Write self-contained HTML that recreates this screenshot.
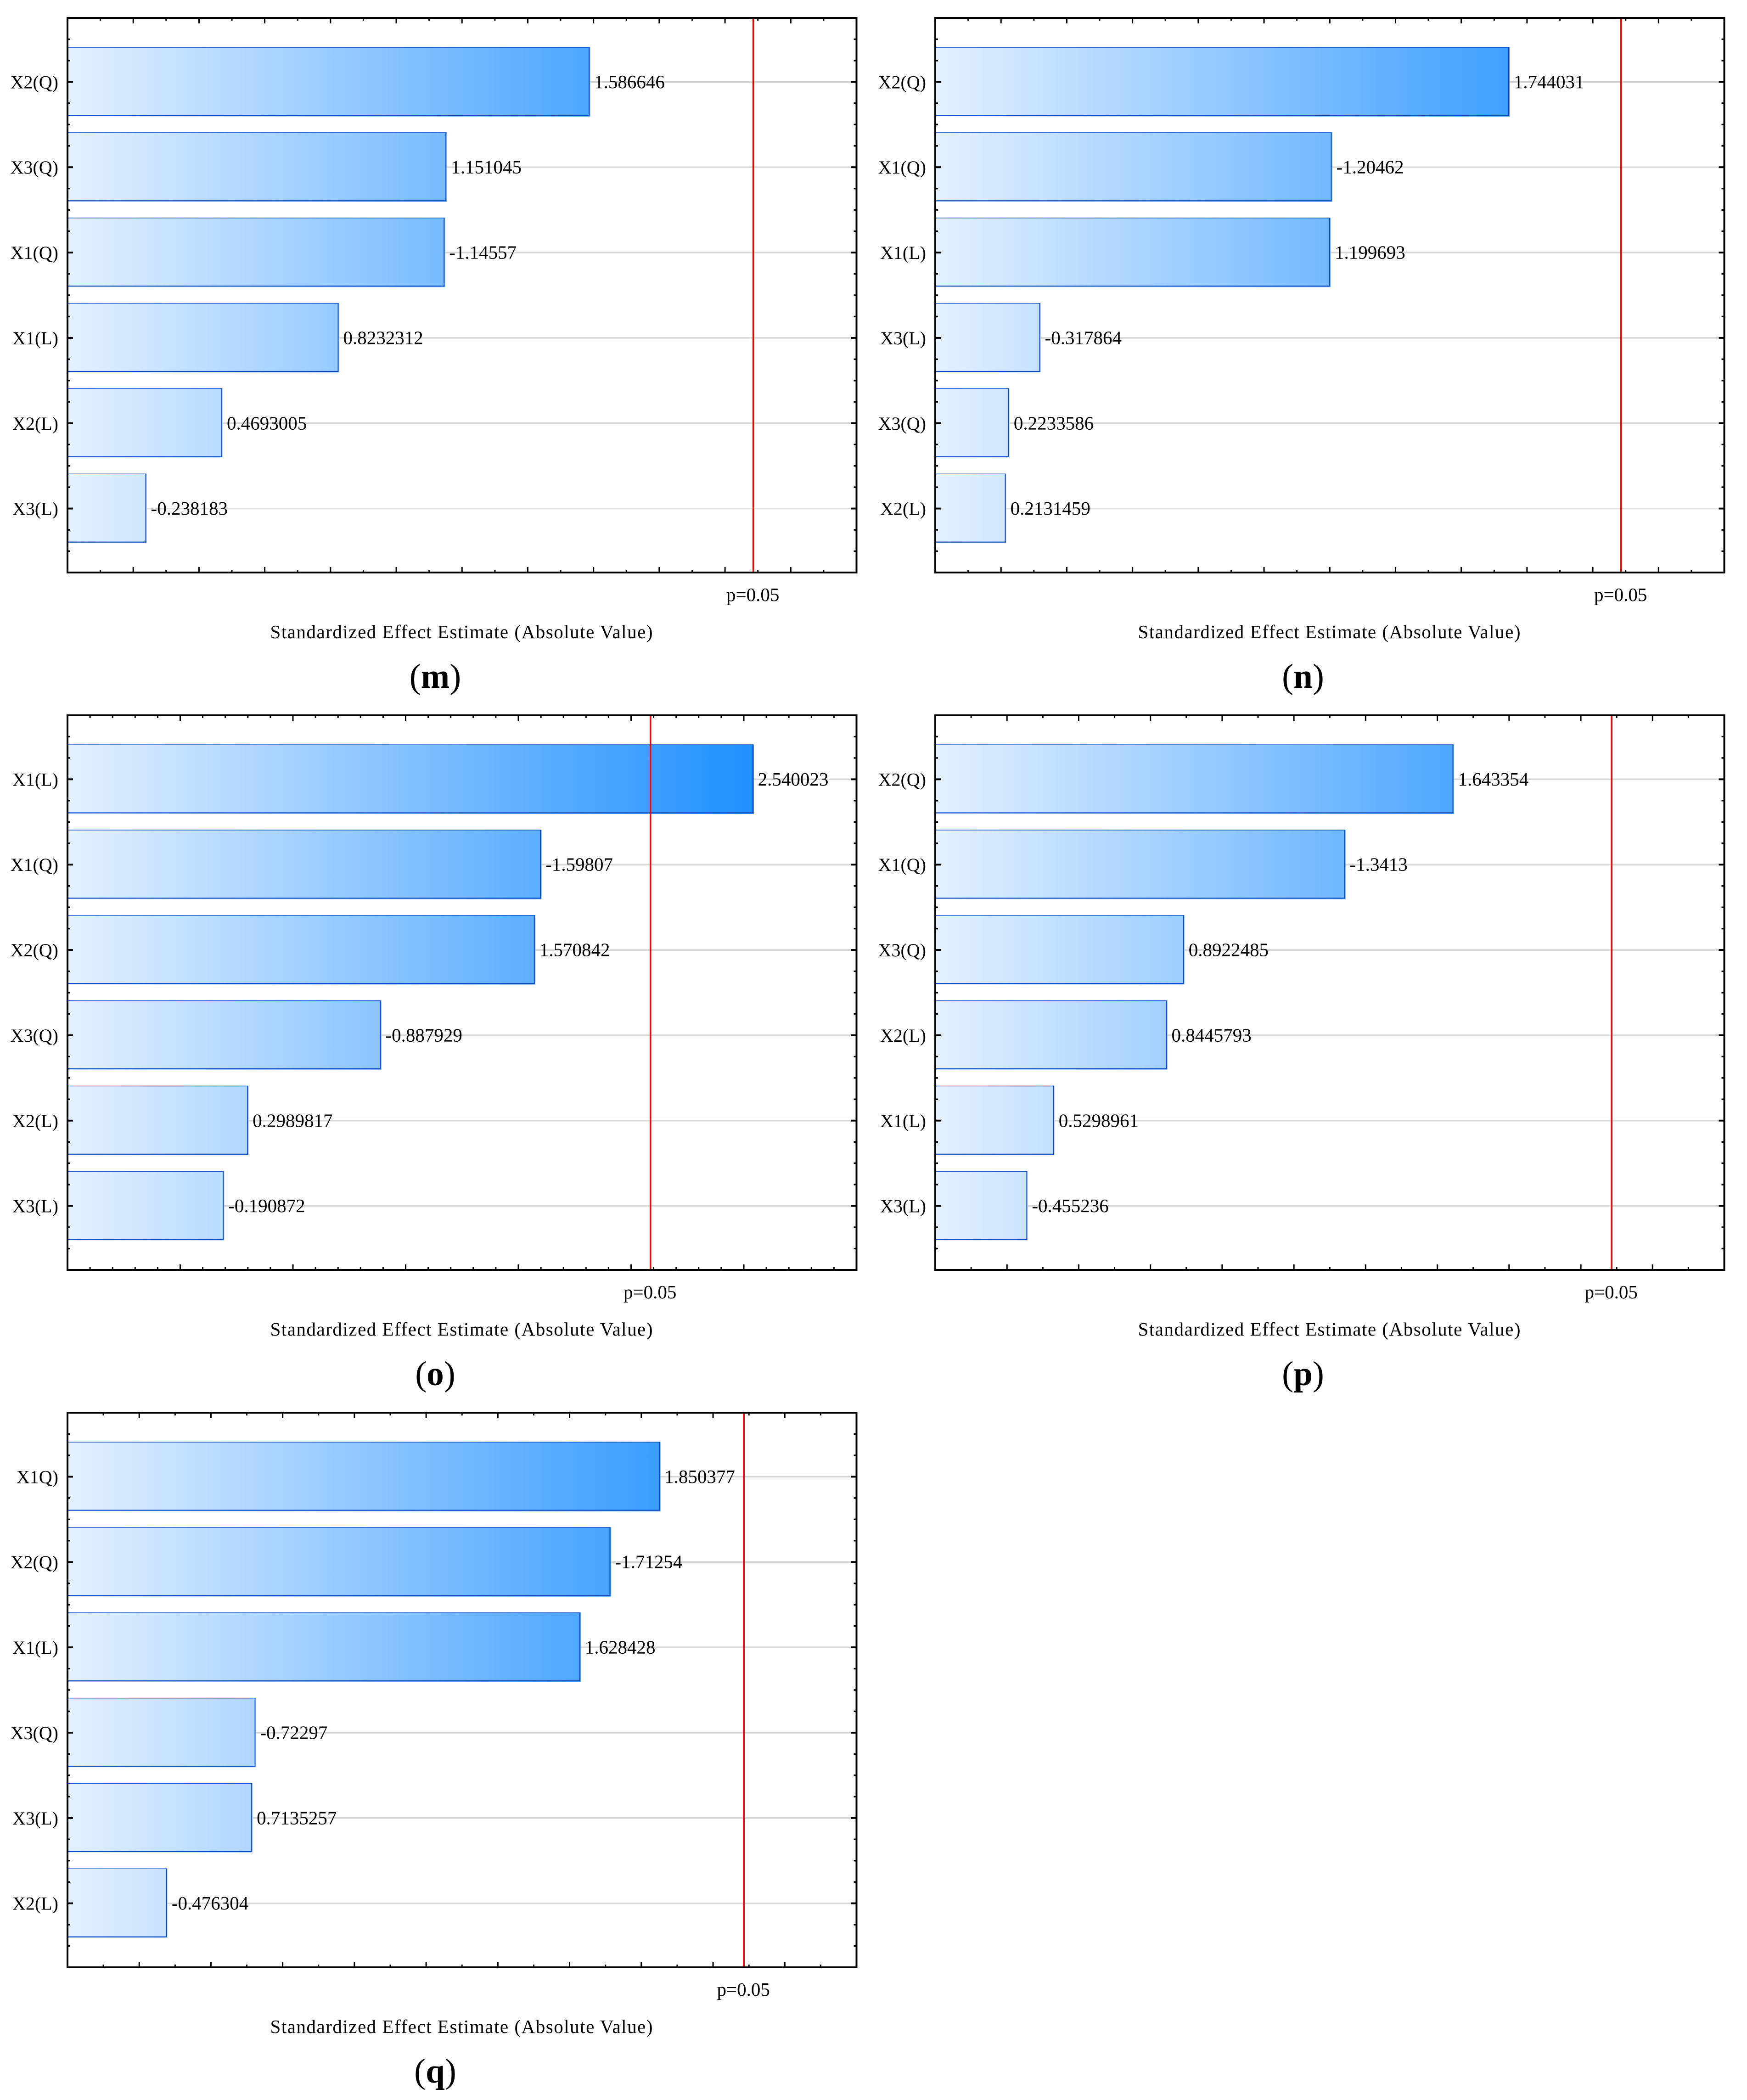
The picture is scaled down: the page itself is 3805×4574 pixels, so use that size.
<!DOCTYPE html>
<html lang="en">
<head>
<meta charset="utf-8">
<title>Standardized effect estimate Pareto charts</title>
<style>
  html, body { margin: 0; padding: 0; background: #ffffff; }
  svg { display: block; }
  text { font-family: "Liberation Serif", "Times New Roman", serif; fill: #000; }
</style>
</head>
<body>
<svg id="figure" xmlns="http://www.w3.org/2000/svg" width="3805" height="4574" viewBox="0 0 3805 4574">
  <rect x="0" y="0" width="3805" height="4574" fill="#ffffff"/>
</svg>
<script>
// Panel (m)
const mCategories = ["X2(Q)", "X3(Q)", "X1(Q)", "X1(L)", "X2(L)", "X3(L)"];
const mValues = [1.586646, 1.151045, -1.14557, 0.8232312, 0.4693005, -0.238183];
const mDomain = [0, 2.4];
const mMajorTenths = [2];
// Panel (n)
const nCategories = ["X2(Q)", "X1(Q)", "X1(L)", "X3(L)", "X3(Q)", "X2(L)"];
const nValues = [1.744031, -1.20462, 1.199693, -0.317864, 0.2233586, 0.2131459];
const nDomain = [0, 2.4];
const nMajorTenths = [2];
// Panel (o)
const oCategories = ["X1(L)", "X1(Q)", "X2(Q)", "X3(Q)", "X2(L)", "X3(L)"];
const oValues = [2.540023, -1.59807, 1.570842, -0.887929, 0.2989817, -0.190872];
const oDomain = [-0.5, 3.0];
const oMajorTenths = [5];
// Panel (p)
const pCategories = ["X2(Q)", "X1(Q)", "X3(Q)", "X2(L)", "X1(L)", "X3(L)"];
const pValues = [1.643354, -1.3413, 0.8922485, 0.8445793, 0.5298961, -0.455236];
const pDomain = [0.2, 2.4];
const pMajorTenths = [2];
// Panel (q) - the first label is printed "X1Q)" in the source figure
const qCategories = ["X1Q)", "X2(Q)", "X1(L)", "X3(Q)", "X3(L)", "X2(L)"];
const qValues = [1.850377, -1.71254, 1.628428, -0.72297, 0.7135257, -0.476304];
const qDomain = [0.2, 2.4];
const qMajorTenths = [2];
// Significance limit shared by every panel
const criticalValue = [2.086];
const criticalLabel = ["p=0.05"];
const axisTitle = ["Standardized Effect Estimate (Absolute Value)"];

const SVGNS = "http://www.w3.org/2000/svg";
const figure = document.getElementById("figure");
const PLOT_W = 1718.5, PLOT_H = 1208, BAND = PLOT_H / 6.5;
const COLUMN_LEFT = [147, 2037];
const ROW_TOP = [39, 1558, 3077];
const GRADIENT_SPAN = 1494;

function node(parent, tag, attrs, text) {
  const el = document.createElementNS(SVGNS, tag);
  for (const k in attrs) el.setAttribute(k, attrs[k]);
  if (text !== undefined) el.textContent = text;
  parent.appendChild(el);
  return el;
}

const defs = node(figure, "defs", {});
COLUMN_LEFT.forEach(function (left, c) {
  const g = node(defs, "linearGradient", { id: "bar-fill-" + c, gradientUnits: "userSpaceOnUse", x1: left, y1: 0, x2: left + GRADIENT_SPAN, y2: 0 });
  node(g, "stop", { offset: "0", "stop-color": "#e4f1ff" });
  node(g, "stop", { offset: "1", "stop-color": "#1e90ff" });
});

function drawPanel(id, categories, values, domain, majorTenths, column, row) {
  const left = COLUMN_LEFT[column], top = ROW_TOP[row];
  const right = left + PLOT_W, bottom = top + PLOT_H;
  const xScale = function (v) { return left + (v - domain[0]) / (domain[1] - domain[0]) * PLOT_W; };
  const yCenter = function (i) { return top + BAND * (0.75 + i); };

  const group = node(figure, "g", {});
  
  

  // Gridlines behind the bars
  categories.forEach(function (cat, i) {
    const grid = node(group, "line", { x1: left, x2: right, y1: yCenter(i), y2: yCenter(i), stroke: "#d8d8d8", "stroke-width": 3.6 });
    
    
  });

  // Bars
  values.forEach(function (value, i) {
    const endX = xScale(Math.abs(value));
    const cy = yCenter(i);
    const barTop = cy - 76, barBottom = cy + 73;
    const barGroup = node(group, "g", {});
    
    
    const fill = node(barGroup, "rect", { x: left, y: barTop, width: endX + 2.4 - left, height: barBottom + 2.5 - barTop, fill: "url(#bar-fill-" + column + ")" });
    
    
    const topEdge = node(barGroup, "rect", { x: left, y: barTop, width: endX + 1 - left, height: 1.4, fill: "#0c48c4" });
    
    
    const bottomEdge = node(barGroup, "rect", { x: left, y: barBottom - 1, width: endX + 1 - left, height: 2.2, fill: "#0c48c4" });
    
    
    const sideEdge = node(barGroup, "rect", { x: endX - 1, y: barTop, width: 2, height: barBottom - barTop + 1, fill: "#0c48c4" });
    
    
    const valueLabel = node(group, "text", { x: endX + 11, y: cy + 13.5, "font-size": 41 }, String(value));
    
    
    const catLabel = node(group, "text", { x: left - 20, y: cy + 14, "font-size": 40, "text-anchor": "end" }, categories[i]);
    
    
  });

  // X ticks on top and bottom, every 0.1
  for (let k = Math.ceil(domain[0] * 10) + 1; k < Math.floor(domain[1] * 10); k++) {
    const major = k % majorTenths[0] === 0;
    const len = major ? 12 : 6;
    const x = xScale(k / 10);
    const t1 = node(group, "line", { x1: x, x2: x, y1: top, y2: top + len, stroke: "#000", "stroke-width": 3 });
    
    
    const t2 = node(group, "line", { x1: x, x2: x, y1: bottom, y2: bottom - len, stroke: "#000", "stroke-width": 3 });
    
    
  }

  // Y ticks on left and right, four per category band
  for (let k = 1; k < 26; k++) {
    const major = k % 4 === 3;
    const len = major ? 12 : 6;
    const w = major ? 4 : 3.4;
    const y = top + k * BAND / 4;
    const t1 = node(group, "line", { x1: left, x2: left + len, y1: y, y2: y, stroke: "#000", "stroke-width": w });
    
    
    const t2 = node(group, "line", { x1: right, x2: right - len, y1: y, y2: y, stroke: "#000", "stroke-width": w });
    
    
  }

  // Critical value line
  const critX = xScale(criticalValue[0]);
  const crit = node(group, "line", { x1: critX, x2: critX, y1: top, y2: bottom, stroke: "#ff0000", "stroke-width": 3.6 });
  
  

  // Frame
  const frame = node(group, "rect", { x: left, y: top, width: PLOT_W, height: PLOT_H, fill: "none", stroke: "#000", "stroke-width": 4 });
  
  

  // Labels
  const critText = node(group, "text", { x: critX - 1, y: bottom + 62, "font-size": 41, "text-anchor": "middle" }, criticalLabel[0]);
  
  
  const xTitle = node(group, "text", { x: left + 858, y: bottom + 143, "font-size": 41, "text-anchor": "middle", textLength: 833, lengthAdjust: "spacing" }, axisTitle[0]);
  
  
  const caption = node(group, "text", { x: left + 801, y: bottom + 251, "font-size": 75, "text-anchor": "middle" });
  
  
  node(caption, "tspan", {}, "(");
  node(caption, "tspan", { "font-weight": "bold" }, id);
  node(caption, "tspan", {}, ")");
}

drawPanel("m", mCategories, mValues, mDomain, mMajorTenths, 0, 0);
drawPanel("n", nCategories, nValues, nDomain, nMajorTenths, 1, 0);
drawPanel("o", oCategories, oValues, oDomain, oMajorTenths, 0, 1);
drawPanel("p", pCategories, pValues, pDomain, pMajorTenths, 1, 1);
drawPanel("q", qCategories, qValues, qDomain, qMajorTenths, 0, 2);
</script>
</body>
</html>
